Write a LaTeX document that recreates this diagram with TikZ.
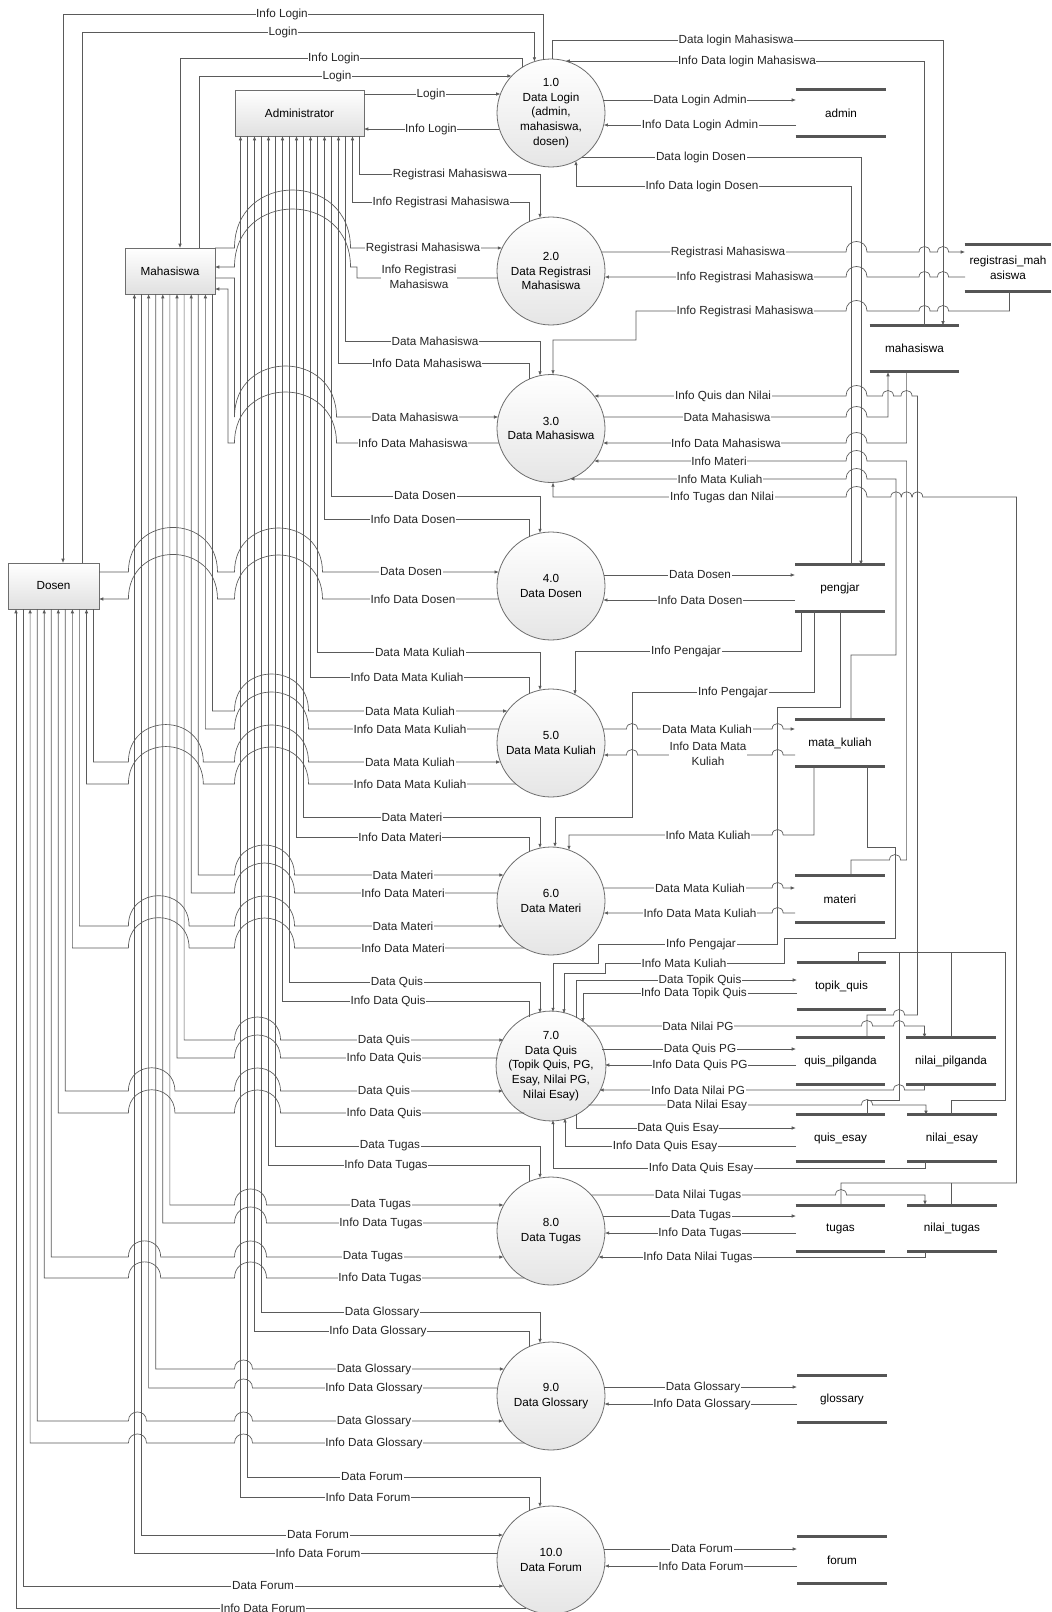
\documentclass[tikz,border=0pt]{standalone}
\usepackage{fontspec}
\setmainfont{Liberation Sans}
\usetikzlibrary{arrows.meta}
\definecolor{lc}{HTML}{5A5A5A}
\definecolor{bc}{HTML}{6E6E6E}
\definecolor{sc}{HTML}{555555}
\begin{document}
\begin{tikzpicture}[x=0.75pt,y=-0.75pt,
  font=\fontsize{8.8}{11}\selectfont,
  declare function={
    cl(\cc,\vv)=551-sqrt(2916-(\vv-\cc)^2);
    cr(\cc,\vv)=551+sqrt(2916-(\vv-\cc)^2);
    ct(\cc,\vv)=\cc-sqrt(2916-(\vv-551)^2);
    cb(\cc,\vv)=\cc+sqrt(2916-(\vv-551)^2);
  },
  flow/.style={draw=lc, line width=0.5pt, -{Latex[length=3.2pt,width=2.6pt]}},
  link/.style={draw=lc, line width=0.5pt},
  hop/.style args={#1/#2/#3}{insert path={-- (#1,#3) .. controls (#1,{#3-0.6667*abs(#2-#1)}) and (#2,{#3-0.6667*abs(#2-#1)}) .. (#2,#3)}},
  lbl/.style={fill=white, inner sep=0.5pt, text=black!85},
  entity/.style={draw=bc, line width=0.6pt, top color=white, bottom color=black!12, inner sep=0pt, minimum height=34.5pt},
  proc/.style={circle, draw=bc, line width=0.6pt, top color=white, bottom color=black!10, minimum size=81pt, inner sep=0pt, align=center},
  storeline/.style={draw=sc, line width=2.2pt},
  store/.style={minimum width=66.75pt, minimum height=34.5pt, inner sep=0pt, align=center,
    append after command={(\tikzlastnode.north west) edge[storeline] (\tikzlastnode.north east)
                          (\tikzlastnode.south west) edge[storeline] (\tikzlastnode.south east)}},
]
\fill[white] (0,0) rectangle (1051,1612);
\useasboundingbox (0,0) rectangle (1051,1612);

% ---------- external entities ----------
\node[entity, minimum width=96.75pt] (admin) at (299.5,113) {Administrator};
\node[entity, minimum width=67.5pt] (mhs) at (170,271) {Mahasiswa};
\node[entity, minimum width=68.25pt] (dosen) at (53.5,586) {Dosen};

% ---------- processes ----------
\node[proc] (p1) at (551,113) {1.0\\Data Login\\(admin,\\mahasiswa,\\dosen)};
\node[proc] (p2) at (551,271) {2.0\\Data Registrasi\\Mahasiswa};
\node[proc] (p3) at (551,428.5) {3.0\\Data Mahasiswa};
\node[proc] (p4) at (551,586) {4.0\\Data Dosen};
\node[proc] (p5) at (551,743) {5.0\\Data Mata Kuliah};
\node[proc] (p6) at (551,901) {6.0\\Data Materi};
\node[proc] (p7) at (551,1066) {7.0\\Data Quis\\(Topik Quis, PG,\\Esay, Nilai PG,\\Nilai Esay)};
\node[proc] (p8) at (551,1231) {8.0\\Data Tugas};
\node[proc] (p9) at (551,1396) {9.0\\Data Glossary};
\node[proc] (p10) at (551,1560) {10.0\\Data Forum};

% ---------- data stores ----------
\node[store, minimum width=67.5pt] (sadmin) at (841,113) {admin};
\node[store, minimum width=64.5pt] (sreg) at (1008,268) {registrasi\_mah\\asiswa};
\node[store] (smhs) at (914.5,348.5) {mahasiswa};
\node[store] (spengajar) at (840,588) {pengjar};
\node[store] (smk) at (840,743) {mata\_kuliah};
\node[store] (smateri) at (840,899) {materi};
\node[store] (stopik) at (841.5,986) {topik\_quis};
\node[store] (sqpg) at (840.5,1061) {quis\_pilganda};
\node[store] (snpg) at (951,1061) {nilai\_pilganda};
\node[store] (sqes) at (840.5,1138) {quis\_esay};
\node[store] (snes) at (952,1138) {nilai\_esay};
\node[store] (stugas) at (840.5,1228.5) {tugas};
\node[store] (sntugas) at (952,1228.5) {nilai\_tugas};
\node[store] (sgloss) at (842,1399) {glossary};
\node[store] (sforum) at (842,1560) {forum};

% ---------- 1.0 Data Login ----------
\draw[flow] (82,563) -- (82,32) -- (534.4,32) -- (534.4,{ct(113,534.4)});
\draw[flow] (543.6,{ct(113,543.6)}) -- (543.6,14) -- (63,14) -- (63,563);
\draw[flow] (199,248) -- (199,76) -- ({cl(113,76)},76);
\draw[flow] (522,{ct(113,522)}) -- (522,58) -- (180,58) -- (180,248);
\draw[flow] (364,94) -- ({cl(113,94)},94);
\draw[flow] ({cl(113,129)},129) -- (364,129);
\draw[flow] (552.7,{ct(113,552.7)}) -- (552.7,40) -- (943,40) -- (943,325.5);
\draw[flow] (924.5,325.5) -- (924.5,61) -- ({cr(113,61)},61);
\draw[flow] ({cr(113,100)},100) -- (796,100);
\draw[flow] (796,125) -- ({cr(113,125)},125);
\draw[flow] ({cr(113,157)},157) -- (861,157) -- (861,565);
\draw[flow] (851,565) -- (851,186) -- (576,186) -- (576,{cb(113,576)});

% ---------- 2.0 Data Registrasi Mahasiswa ----------
\draw[flow] (359.5,136) -- (359.5,174) -- (540,174) -- (540,{ct(271,540)});
\draw[flow] (529,{ct(271,529)}) -- (529,202) -- (352.5,202) -- (352.5,136);
\draw[flow] (215,248) [hop=234.5/350.5/248] -- ({cl(271,248)},248);
\draw[flow] ({cl(271,278)},278) -- (357,278) -- (357,267) [hop=350.5/234.5/267] -- (215,267);
\draw[flow] ({cr(271,252)},252) [hop=846/867/252] [hop=919/930/252] [hop=937.5/948.5/252] -- (965,252);
\draw[flow] (965,277) [hop=948.5/937.5/277] [hop=930/919/277] [hop=867/846/277] -- ({cr(271,277)},277);
\draw[flow] (1009.5,291) -- (1009.5,311) [hop=948.5/937.5/311] [hop=930/919/311] [hop=867/846/311] -- (636,311) -- (636,340) -- (553,340) -- (553,{ct(428.5,553)});

% ---------- 3.0 Data Mahasiswa ----------
\draw[flow] (345.5,136) -- (345.5,341) -- (540,341) -- (540,{ct(428.5,540)});
\draw[flow] (529,{ct(428.5,529)}) -- (529,363) -- (338.5,363) -- (338.5,136);
\draw[flow] (215,278) -- (234.5,278) -- (234.5,417) [hop=234.5/336.5/417] -- ({cl(428.5,417)},417);
\draw[flow] ({cl(428.5,443)},443) [hop=336.5/234.5/443] -- (228,443) -- (228,289) -- (215,289);
\draw[flow] (867,1038) -- (867,1015) [hop=893.5/904.5/1015] -- (917.5,1015) -- (917.5,396) [hop=912/901/396] [hop=893.5/882.5/396] [hop=867/846/396] -- ({cr(428.5,396)},396);
\draw[flow] ({cr(428.5,417)},417) [hop=846/867/417] -- (888,417) -- (888,372);
\draw[flow] (906.6,372) -- (906.6,443) [hop=867/846/443] -- ({cr(428.5,443)},443);
\draw[flow] (851,876) -- (851,860) [hop=889.5/900.5/860] -- (906.6,860) -- (906.6,461) [hop=867/846/461] -- ({cr(428.5,461)},461);
\draw[flow] (851,720) -- (851,655) -- (896,655) -- (896,479) [hop=867/846/479] -- ({cr(428.5,479)},479);
\draw[flow] (841,1205) -- (841,1183) -- (1016.5,1183) -- (1016.5,497) [hop=922.7/912.3/497] [hop=911.8/901.4/497] [hop=901.2/890.8/497] [hop=867/846/497] -- (553,497) -- (553,{cb(428.5,553)});
\draw[link] (951.6,1205) -- (951.6,1183);

% ---------- 4.0 Data Dosen ----------
\draw[flow] (331.5,136) -- (331.5,496) -- (540,496) -- (540,{ct(586,540)});
\draw[flow] (529,{ct(586,529)}) -- (529,519) -- (324.5,519) -- (324.5,136);
\draw[flow] (99,572) [hop=128.4/217.5/572] [hop=234.5/322.5/572] -- ({cl(586,572)},572);
\draw[flow] ({cl(586,599)},599) [hop=322.5/234.5/599] [hop=217.5/128.4/599] -- (99,599);
\draw[flow] ({cr(586,575)},575) -- (795,575);
\draw[flow] (795,600) -- ({cr(586,600)},600);

% ---------- 5.0 Data Mata Kuliah ----------
\draw[flow] (317.5,136) -- (317.5,652) -- (540,652) -- (540,{ct(743,540)});
\draw[flow] (529,{ct(743,529)}) -- (529,677) -- (310.5,677) -- (310.5,136);
\draw[flow] (212.5,294) -- (212.5,711) [hop=234.5/308.5/711] -- ({cl(743,711)},711);
\draw[flow] ({cl(743,729)},729) [hop=308.5/234.5/729] -- (205.4,729) -- (205.4,294);
\draw[flow] (93.5,609) -- (93.5,762) [hop=128.4/203.3/762] [hop=234.5/308.5/762] -- ({cl(743,762)},762);
\draw[flow] ({cl(743,784)},784) [hop=308.5/234.5/784] [hop=203.3/128.4/784] -- (86.5,784) -- (86.5,609);
\draw[flow] (801,611) -- (801,651) -- (575,651) -- (575,{ct(743,575)});
\draw[flow] (814,611) -- (814,692) -- (632,692) -- (632,817) -- (555,817) -- (555,{ct(901,555)});
\draw[flow] ({cr(743,729)},729) [hop=626.5/637.5/729] [hop=772.1/783.1/729] -- (795,729);
\draw[flow] (795,755) [hop=783.1/772.1/755] [hop=637.5/626.5/755] -- ({cr(743,755)},755);
\draw[flow] (840,611) -- (840,707) -- (777.6,707) -- (777.6,944) -- (598,944) -- (598,963) -- (553,963) -- (553,{ct(1066,553)});

% ---------- 6.0 Data Materi ----------
\draw[flow] (303.5,136) -- (303.5,817) -- (540,817) -- (540,{ct(901,540)});
\draw[flow] (529,{ct(901,529)}) -- (529,837) -- (296.5,837) -- (296.5,136);
\draw[flow] (198.3,294) -- (198.3,875) [hop=234.5/294.5/875] -- ({cl(901,875)},875);
\draw[flow] ({cl(901,893)},893) [hop=294.5/234.5/893] -- (191.2,893) -- (191.2,294);
\draw[flow] (79.4,609) -- (79.4,926) [hop=128.4/189.1/926] [hop=234.5/294.5/926] -- ({cl(901,926)},926);
\draw[flow] ({cl(901,948)},948) [hop=294.5/234.5/948] [hop=189.1/128.4/948] -- (72.4,948) -- (72.4,609);
\draw[flow] (814,766) -- (814,835) [hop=783.1/772.1/835] -- (569,835) -- (569,{ct(901,569)});
\draw[flow] ({cr(901,888)},888) [hop=772.1/783.1/888] -- (795,888);
\draw[flow] (795,913) [hop=783.1/772.1/913] -- ({cr(901,913)},913);
\draw[flow] (867,766) -- (867,847) -- (895,847) -- (895,938) -- (784.6,938) -- (784.6,963) -- (605,963) -- (605,973) -- (564,973) -- (564,{ct(1066,564)});

% ---------- 7.0 Data Quis ----------
\draw[flow] (289.5,136) -- (289.5,982) -- (540,982) -- (540,{ct(1066,540)});
\draw[flow] (529,{ct(1066,529)}) -- (529,1001) -- (282.5,1001) -- (282.5,136);
\draw[flow] (184.1,294) -- (184.1,1040) [hop=234.5/280.5/1040] -- ({cl(1066,1040)},1040);
\draw[flow] ({cl(1066,1058)},1058) [hop=280.5/234.5/1058] -- (177,1058) -- (177,294);
\draw[flow] (65.3,609) -- (65.3,1091) [hop=128.4/174.9/1091] [hop=234.5/280.5/1091] -- ({cl(1066,1091)},1091);
\draw[flow] ({cl(1066,1113)},1113) [hop=280.5/234.5/1113] [hop=174.9/128.4/1113] -- (58.3,1113) -- (58.3,609);
\draw[flow] (576,{ct(1066,576)}) -- (576,980) -- (797,980);
\draw[flow] (797,993) -- (583,993) -- (583,{ct(1066,583)});
\draw[flow] ({cr(1066,1026)},1026) [hop=861.5/872.5/1026] [hop=893.5/904.5/1026] -- (924.5,1026) -- (924.5,1038);
\draw[flow] ({cr(1066,1049)},1049) -- (796,1049);
\draw[flow] (796,1065) -- ({cr(1066,1065)},1065);
\draw[flow] (924.5,1084) -- (924.5,1090) [hop=904.5/893.5/1090] -- ({cr(1066,1090)},1090);
\draw[flow] ({cr(1066,1105)},1105) [hop=861.5/872.5/1105] -- (926,1105) -- (926,1115);
\draw[flow] (576,{cb(1066,576)}) -- (576,1128) -- (796,1128);
\draw[flow] (796,1146) -- (565,1146) -- (565,{cb(1066,565)});
\draw[flow] (925,1161) -- (925,1168) -- (553,1168) -- (553,{cb(1066,553)});
\draw[link] (858,963) -- (858,952) -- (1005,952) -- (1005,1100) -- (951.6,1100) -- (951.6,1115);
\draw[link] (951.6,952) -- (951.6,1038);
\draw[link] (899,952) -- (899,1100) -- (867,1100) -- (867,1115);

% ---------- 8.0 Data Tugas ----------
\draw[flow] (275.5,136) -- (275.5,1146) -- (540,1146) -- (540,{ct(1231,540)});
\draw[flow] (529,{ct(1231,529)}) -- (529,1165) -- (268.5,1165) -- (268.5,136);
\draw[flow] (169.9,294) -- (169.9,1205) [hop=234.5/266.5/1205] -- ({cl(1231,1205)},1205);
\draw[flow] ({cl(1231,1223)},1223) [hop=266.5/234.5/1223] -- (162.8,1223) -- (162.8,294);
\draw[flow] (51.3,609) -- (51.3,1257) [hop=128.4/160.7/1257] [hop=234.5/266.5/1257] -- ({cl(1231,1257)},1257);
\draw[flow] ({cl(1231,1278)},1278) [hop=266.5/234.5/1278] [hop=160.7/128.4/1278] -- (44.2,1278) -- (44.2,609);
\draw[flow] ({cr(1231,1195)},1195) [hop=835.5/846.5/1195] -- (925,1195) -- (925,1205);
\draw[flow] ({cr(1231,1216)},1216) -- (796,1216);
\draw[flow] (796,1233) -- ({cr(1231,1233)},1233);
\draw[flow] (925,1252) -- (925,1257) -- ({cr(1231,1257)},1257);

% ---------- 9.0 Data Glossary ----------
\draw[flow] (261.5,136) -- (261.5,1312) -- (540,1312) -- (540,{ct(1396,540)});
\draw[flow] (529,{ct(1396,529)}) -- (529,1331) -- (254.5,1331) -- (254.5,136);
\draw[flow] (155.7,294) -- (155.7,1369) [hop=234.5/252.5/1369] -- ({cl(1396,1369)},1369);
\draw[flow] ({cl(1396,1388)},1388) [hop=252.5/234.5/1388] -- (148.6,1388) -- (148.6,294);
\draw[flow] (37.2,609) -- (37.2,1421) [hop=128.4/146.5/1421] [hop=234.5/252.5/1421] -- ({cl(1396,1421)},1421);
\draw[flow] ({cl(1396,1443)},1443) [hop=252.5/234.5/1443] [hop=146.5/128.4/1443] -- (30.1,1443) -- (30.1,609);
\draw[flow] ({cr(1396,1387)},1387) -- (797,1387);
\draw[flow] (797,1404) -- ({cr(1396,1404)},1404);

% ---------- 10.0 Data Forum ----------
\draw[flow] (247.5,136) -- (247.5,1477) -- (540,1477) -- (540,{ct(1560,540)});
\draw[flow] (529,{ct(1560,529)}) -- (529,1497) -- (240.5,1497) -- (240.5,136);
\draw[flow] (141.5,294) -- (141.5,1535) -- ({cl(1560,1535)},1535);
\draw[flow] ({cl(1560,1553)},1553) -- (134.4,1553) -- (134.4,294);
\draw[flow] (23.1,609) -- (23.1,1586) -- ({cl(1560,1586)},1586);
\draw[flow] ({cl(1560,1608)},1608) -- (16,1608) -- (16,609);
\draw[flow] ({cr(1560,1549)},1549) -- (797,1549);
\draw[flow] (797,1566) -- ({cr(1560,1566)},1566);

% ---------- flow labels ----------
\foreach \lx/\ly/\lt [count=\n] in {
  282/14/Info Login, 283/32/Login, 334/58/Info Login, 337/76/Login,
  431/94/Login, 431/129/Info Login,
  450/174/Registrasi Mahasiswa, 441/202/Info Registrasi Mahasiswa, 423/248/Registrasi Mahasiswa,
  435/341/Data Mahasiswa, 427/363/Info Data Mahasiswa, 415/417/Data Mahasiswa, 413/443/Info Data Mahasiswa,
  425/496/Data Dosen, 413/519/Info Data Dosen, 411/572/Data Dosen, 413/599/Info Data Dosen,
  420/652/Data Mata Kuliah, 407/677/Info Data Mata Kuliah, 410/711/Data Mata Kuliah,
  410/729/Info Data Mata Kuliah, 410/762/Data Mata Kuliah, 410/784/Info Data Mata Kuliah,
  412/817/Data Materi, 400/837/Info Data Materi, 403/875/Data Materi, 403/893/Info Data Materi,
  403/926/Data Materi, 403/948/Info Data Materi,
  397/982/Data Quis, 388/1001/Info Data Quis, 384/1040/Data Quis, 384/1058/Info Data Quis,
  384/1091/Data Quis, 384/1113/Info Data Quis,
  390/1146/Data Tugas, 386/1165/Info Data Tugas, 381/1205/Data Tugas, 381/1223/Info Data Tugas,
  373/1257/Data Tugas, 380/1278/Info Data Tugas,
  382/1312/Data Glossary, 378/1331/Info Data Glossary, 374/1369/Data Glossary, 374/1388/Info Data Glossary,
  374/1421/Data Glossary, 374/1443/Info Data Glossary,
  372/1477/Data Forum, 368/1497/Info Data Forum, 318/1535/Data Forum, 318/1553/Info Data Forum,
  263/1586/Data Forum, 263/1608/Info Data Forum,
  736/40/Data login Mahasiswa, 747/61/Info Data login Mahasiswa,
  700/100/Data Login Admin, 700/125/Info Data Login Admin,
  701/157/Data login Dosen, 702/186/Info Data login Dosen,
  728/252/Registrasi Mahasiswa, 745/277/Info Registrasi Mahasiswa, 745/311/Info Registrasi Mahasiswa,
  723/396/Info Quis dan Nilai, 727/417/Data Mahasiswa, 726/443/Info Data Mahasiswa,
  719/461/Info Materi, 720/479/Info Mata Kuliah, 722/497/Info Tugas dan Nilai,
  700/575/Data Dosen, 700/600/Info Data Dosen,
  686/651/Info Pengajar, 733/692/Info Pengajar, 707/729/Data Mata Kuliah,
  708/835/Info Mata Kuliah, 700/888/Data Mata Kuliah, 700/913/Info Data Mata Kuliah,
  701/944/Info Pengajar, 684/963/Info Mata Kuliah,
  700/980/Data Topik Quis, 694/993/Info Data Topik Quis,
  698/1026/Data Nilai PG, 700/1049/Data Quis PG, 700/1065/Info Data Quis PG,
  698/1090/Info Data Nilai PG, 707/1105/Data Nilai Esay,
  678/1128/Data Quis Esay, 665/1146/Info Data Quis Esay, 701/1168/Info Data Quis Esay,
  698/1195/Data Nilai Tugas, 701/1216/Data Tugas, 700/1233/Info Data Tugas, 698/1257/Info Data Nilai Tugas,
  703/1387/Data Glossary, 702/1404/Info Data Glossary,
  702/1549/Data Forum, 701/1566/Info Data Forum}
  \node[lbl] (lb\n) at (\lx,\ly) {\lt};
\node[lbl, align=center] (lbreg) at (419,277) {Info Registrasi\\Mahasiswa};
\node[lbl, align=center] (lbmk) at (708,754) {Info Data Mata\\Kuliah};
\end{tikzpicture}
\end{document}
